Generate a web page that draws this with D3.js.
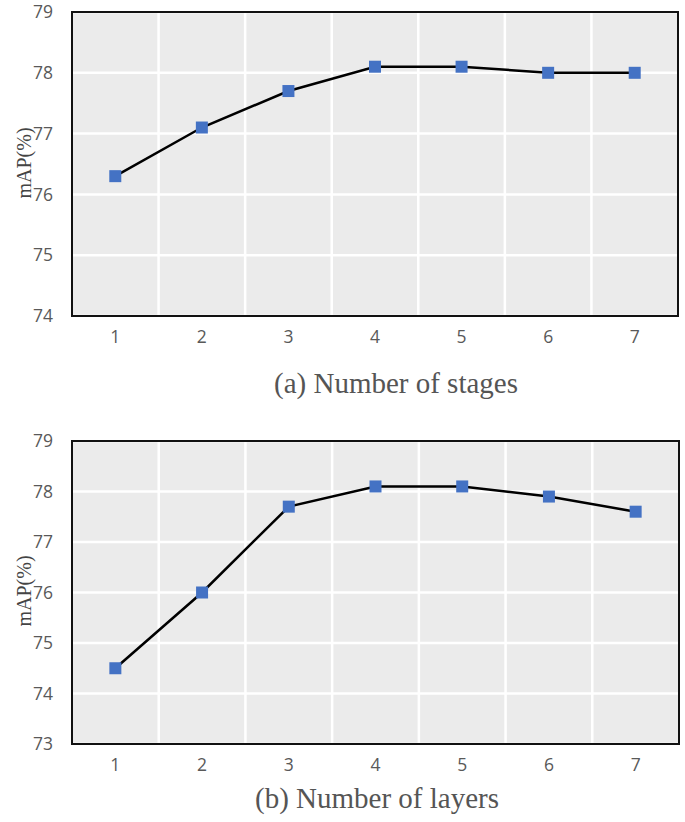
<!DOCTYPE html>
<html><head><meta charset="utf-8">
<script src="https://cdn.jsdelivr.net/npm/d3@7"></script>
<style>body{margin:0;background:#fff}</style>
</head><body>
<svg id="c" width="685" height="822"></svg>
<script>
const categories = [1,2,3,4,5,6,7];
const stagesValues = [76.3,77.1,77.7,78.1,78.1,78.0,78.0];
const layersValues = [74.5,76.0,77.7,78.1,78.1,77.9,77.6];
const stagesTicks = [74,75,76,77,78,79];
const layersTicks = [73,74,75,76,77,78,79];
const captions = ["(a) Number of stages","(b) Number of layers"];
const yLabel = "mAP(%)";

const svg = d3.select("#c");

function panel(cfg){
  const {top,bottom,left,right,values,ticks,caption,capX,capY,labelY,tickY} = cfg;
  const g = svg.append("g");
  const x = d3.scaleBand().domain(categories).range([left,right]).padding(0);
  const y = d3.scaleLinear().domain([ticks[0],ticks[ticks.length-1]]).range([bottom,top]);
  g.append("rect").attr("x",left).attr("y",top).attr("width",right-left).attr("height",bottom-top).attr("fill","#ebebeb");
  g.selectAll(".hg").data(ticks).join("line")
    .attr("x1",left).attr("x2",right).attr("y1",d=>y(d)).attr("y2",d=>y(d))
    .attr("stroke","#fff").attr("stroke-width",2.5);
  g.selectAll(".vg").data(categories.slice(1)).join("line")
    .attr("x1",d=>x(d)).attr("x2",d=>x(d)).attr("y1",top).attr("y2",bottom)
    .attr("stroke","#fff").attr("stroke-width",2.5);
  g.append("rect").attr("x",left).attr("y",top).attr("width",right-left).attr("height",bottom-top)
    .attr("fill","none").attr("stroke","#111").attr("stroke-width",2);
  const ya = d3.axisLeft(y).tickValues(ticks).tickSize(0).tickPadding(0).tickFormat(d3.format("d"));
  const yg = g.append("g").attr("transform",`translate(${left-19},0)`).call(ya);
  yg.select(".domain").remove();
  yg.selectAll("text").attr("font-family","'Open Sans', Lato, sans-serif").attr("font-size",17.5).attr("fill","#595959");
  const xa = d3.axisBottom(x).tickSize(0).tickPadding(0);
  const xg = g.append("g").attr("transform",`translate(0,${tickY})`).call(xa);
  xg.select(".domain").remove();
  xg.selectAll("text").attr("font-family","'Open Sans', Lato, sans-serif").attr("font-size",17.5).attr("fill","#595959").attr("dy","0");
  const cx = d => x(d)+x.bandwidth()/2;
  const line = d3.line().x((d,i)=>cx(categories[i])).y(d=>y(d));
  g.append("path").datum(values).attr("d",line).attr("fill","none").attr("stroke","#000").attr("stroke-width",2.5);
  g.selectAll(".m").data(values).join("rect")
    .attr("x",(d,i)=>cx(categories[i])-6).attr("y",d=>y(d)-6).attr("width",12).attr("height",12)
    .attr("fill","#4472c4");
  g.append("text").attr("transform",`translate(31,${labelY}) rotate(-90)`).attr("text-anchor","middle")
    .attr("font-family","'Liberation Serif', 'Times New Roman', serif").attr("font-size",20).attr("fill","#444").text(yLabel);
  g.append("text").attr("x",capX).attr("y",capY).attr("text-anchor","middle")
    .attr("font-family","'Liberation Serif', 'Times New Roman', serif").attr("font-size",29).attr("fill","#555").text(caption);
}

panel({top:12,bottom:316,left:72,right:678,values:stagesValues,ticks:stagesTicks,caption:captions[0],capX:396,capY:393,labelY:163,tickY:343});
panel({top:441,bottom:744,left:72,right:679,values:layersValues,ticks:layersTicks,caption:captions[1],capX:377,capY:808,labelY:591,tickY:771});
</script>
</body></html>
